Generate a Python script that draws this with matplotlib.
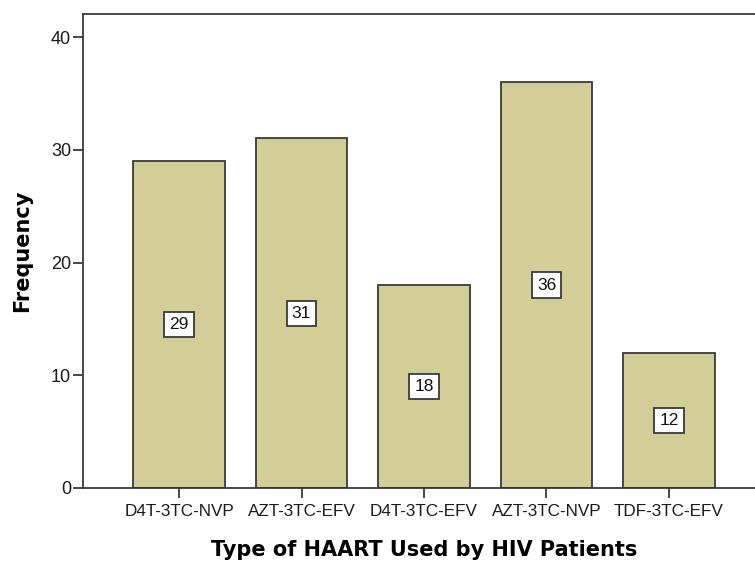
import matplotlib
matplotlib.use("Agg")
import matplotlib.pyplot as plt
import numpy as np

categories = ["D4T-3TC-NVP", "AZT-3TC-EFV", "D4T-3TC-EFV", "AZT-3TC-NVP", "TDF-3TC-EFV"]
frequencies = [29, 31, 18, 36, 12]
yticks = [0, 10, 20, 30, 40]

plt.rcParams['font.family'] = ['Liberation Sans', 'DejaVu Sans']

fig = plt.figure(figsize=(7.55, 5.64), dpi=100)
ax = fig.add_axes([83/755, 1-488/564, (765-83)/755, (488-14)/564])

x = np.arange(len(categories))
ax.bar(x, frequencies, width=0.75, color="#d3ce98", edgecolor="#3a3a3a", linewidth=1.3, zorder=2)
for xi, v in zip(x, frequencies):
    ax.text(xi, v/2, str(v), ha="center", va="center", fontsize=12.5, color="#111111",
            bbox=dict(boxstyle="square,pad=0.3", facecolor="white", edgecolor="#3a3a3a", linewidth=1.3),
            zorder=3)

ax.set_xlim(-0.784, 4.784)
ax.set_ylim(0, 42.04)
ax.set_xticks(x)
ax.set_xticklabels(categories, fontsize=12.3, color="#1a1a1a")
ax.set_yticks(yticks)
ax.set_yticklabels([str(t) for t in yticks], fontsize=13, color="#1a1a1a")
ax.tick_params(axis="both", direction="out", length=7.5, width=1.3, color="#3a3a3a")
ax.tick_params(axis="x", pad=4)
ax.tick_params(axis="y", pad=1)

for s in ["left", "bottom", "top"]:
    ax.spines[s].set_color("#3a3a3a")
    ax.spines[s].set_linewidth(1.3)
ax.spines["right"].set_visible(False)

ax.set_xlabel("Type of HAART Used by HIV Patients", fontsize=15, fontweight="bold",
              family=['DejaVu Sans'], labelpad=15)
ax.set_ylabel("Frequency", fontsize=15, fontweight="bold", family=['DejaVu Sans'], labelpad=14)

fig.savefig("out.png", dpi=100)
